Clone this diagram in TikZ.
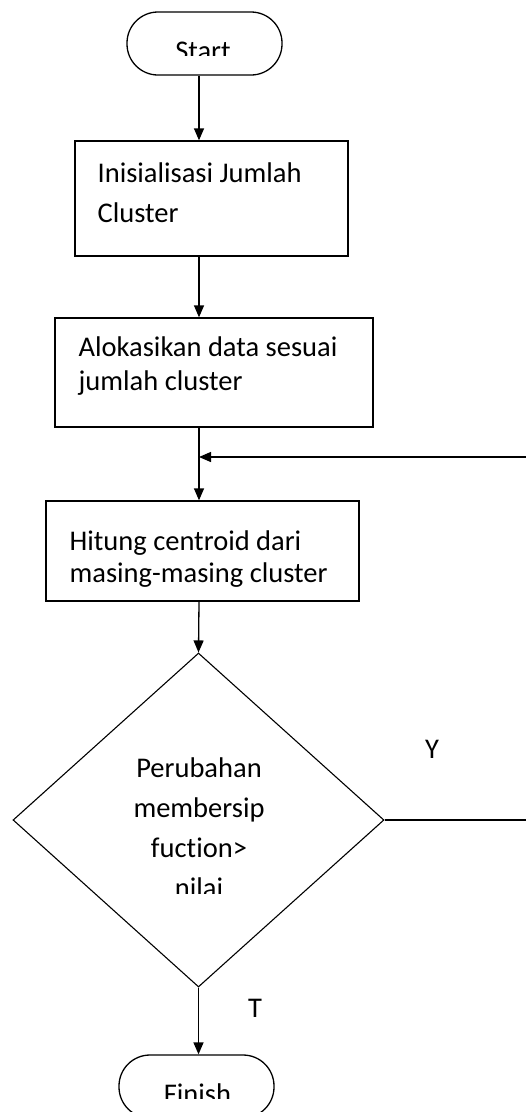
\documentclass[tikz,border=0pt]{standalone}
\usepackage{fontspec}
\setmainfont{Carlito}[Ligatures={NoCommon,NoContextual}]
\usetikzlibrary{shapes.geometric,arrows.meta,calc}
\begin{document}
\begin{tikzpicture}[x=1pt,y=-1pt,line width=1.3pt,
  every node/.style={font=\fontsize{28.5}{34}\selectfont},
  term/.style={draw,rounded corners=31pt,minimum width=155pt,minimum height=63pt,inner sep=0pt},
  proc/.style={draw,inner sep=0pt},
  dec/.style={draw,diamond,inner sep=0pt,line width=1.1pt,minimum width=371pt,minimum height=334pt},
  txt/.style={anchor=base west,inner sep=0pt},
  ctxt/.style={anchor=base,inner sep=0pt},
  lbl/.style={inner sep=0pt},
  flow/.style={-{Triangle[length=12pt,width=10pt]}}]
\useasboundingbox (0,0) rectangle (526,1112);
\clip (0,0) rectangle (526,1112);
\coordinate (spine) at (199,0);
% Start
\node[term] (start) at (204.5,43.5) {};
\begin{scope}
\clip (0,0) rectangle (526,55);
\node[ctxt] (starttxt) at (203,60.4) {Start};
\end{scope}
% Box 1
\node[proc,minimum width=273pt,minimum height=115pt] (b1) at (211.5,198.5) {};
\node[txt] (b1a) at (97,182) {Inisialisasi Jumlah};
\node[txt] (b1b) at (97,222) {Cluster};
% Box 2
\node[proc,minimum width=318pt,minimum height=109pt] (b2) at (214,372.5) {};
\node[txt] (b2a) at (78,356) {Alokasikan data sesuai};
\node[txt] (b2b) at (78,390) {jumlah cluster};
% Box 3
\node[proc,minimum width=313pt,minimum height=100pt] (b3) at (202.5,551) {};
\node[txt] (b3a) at (69,550) {Hitung centroid dari};
\node[txt] (b3b) at (69,582) {masing-masing cluster};
% Decision
\node[dec] (dec) at (198.5,820) {};
\node[ctxt] (d1) at (199,777) {Perubahan};
\node[ctxt] (d2) at (199,817) {membersip};
\node[ctxt] (d3) at (199,857) {fuction>};
\begin{scope}
\clip (0,0) rectangle (526,893);
\node[ctxt] (d4) at (199,897) {nilai};
\end{scope}
% Finish
\node[term] (finish) at (196.5,1086.5) {};
\begin{scope}
\clip (0,0) rectangle (526,1098);
\node[ctxt] (fintxt) at (197.5,1103.5) {Finish};
\end{scope}
% labels
\node[lbl] (ylbl) at (432,749) {Y};
\node[lbl] (tlbl) at (255,1008) {T};
% connectors
\draw[flow] (start.south -| spine) -- (b1.north -| spine);
\draw[flow] (b1.south -| spine) -- (b2.north -| spine);
\draw[flow] (b2.south -| spine) -- (b3.north -| spine);
\draw[flow] (b3.south -| spine) -- (dec.north);
\draw[flow] (dec.south) -- (finish.north -| dec.south);
\coordinate (loopR) at (545,457);
\coordinate (merge) at (199,457);
\draw[flow] (dec.east) -- (dec.east -| loopR) -- (loopR) -- (merge);
\end{tikzpicture}
\end{document}
